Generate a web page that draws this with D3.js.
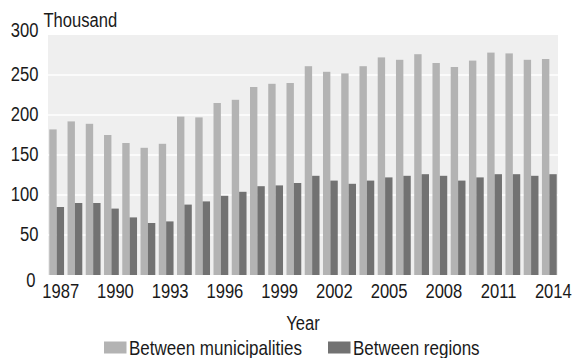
<!DOCTYPE html>
<html>
<head>
<meta charset="utf-8">
<script src="https://cdn.jsdelivr.net/npm/d3@7"></script>
<style>
  html, body { margin: 0; padding: 0; background: #ffffff; }
  svg { display: block; }
  text { font-family: "Liberation Sans", Arial, sans-serif; fill: #1a1a1a; }
</style>
</head>
<body>
<svg id="chart" width="578" height="358"></svg>
<script>
const years = d3.range(1987, 2015);
const betweenMunicipalities = [182, 192, 189, 175, 165, 159, 164, 198, 197, 215, 219, 235, 239, 240, 261, 254, 252, 261, 272, 269, 276, 265, 260, 268, 278, 277, 269, 270];
const betweenRegions = [85, 90, 90, 83, 72, 65, 67, 88, 92, 99, 104, 111, 112, 115, 124, 118, 114, 118, 122, 124, 126, 124, 118, 122, 126, 126, 124, 126];
const seriesNames = ["Between municipalities", "Between regions"];
const seriesColors = ["#b3b3b3", "#727272"];
const yTicks = [0, 50, 100, 150, 200, 250, 300];
const xTickYears = [1987, 1990, 1993, 1996, 1999, 2002, 2005, 2008, 2011, 2014];
const yUnitLabel = "Thousand";
const xTitle = "Year";

const svg = d3.select("#chart");
const mLeft = 48, mRight = 558, mTop = 35, mBottom = 275;
const FS = 21, SX = 0.79; // font size and horizontal condensing

const x = d3.scaleBand().domain(years).range([mLeft, mRight]).paddingInner(0.19).paddingOuter(0.07);
const xs = d3.scaleBand().domain(seriesNames).range([0, x.bandwidth()]).padding(0);
const y = d3.scaleLinear().domain([0, 300]).range([mBottom, mTop]);

// panel
svg.append("rect").attr("x", mLeft).attr("y", mTop).attr("width", mRight - mLeft).attr("height", mBottom - mTop).attr("fill", "#efefef");

// gridlines
svg.append("g").selectAll("line").data(yTicks.filter(d => d > 0 && d < 300)).join("line")
  .attr("x1", mLeft).attr("x2", mRight).attr("y1", d => y(d)).attr("y2", d => y(d))
  .attr("stroke", "#ffffff").attr("stroke-width", 1.4);

// bars
const data = years.map((yr, i) => ({ year: yr, values: [betweenMunicipalities[i], betweenRegions[i]] }));
const groups = svg.append("g").selectAll("g").data(data).join("g")
  .attr("transform", d => `translate(${x(d.year)},0)`);
groups.selectAll("rect").data(d => d.values.map((v, k) => ({ key: seriesNames[k], v, k }))).join("rect")
  .attr("x", d => xs(d.key)).attr("width", xs.bandwidth())
  .attr("y", d => y(d.v)).attr("height", d => y(0) - y(d.v))
  .attr("fill", d => seriesColors[d.k]);

// y axis
const yAxis = d3.axisLeft(y).tickValues(yTicks).tickSize(0).tickPadding(0);
const yg = svg.append("g").attr("transform", `translate(${38.5},0)`).call(yAxis);
yg.select(".domain").remove();
yg.selectAll("text").attr("font-size", FS).attr("dy", "0.24em")
  .attr("font-family", null).attr("fill", "#1a1a1a").attr("transform", `scale(${SX},1)`);
yg.selectAll(".tick").filter(d => d === 300).select("text").attr("dy", "0.08em");
yg.selectAll(".tick").filter(d => d === 0).select("text").attr("dy", "0.57em").attr("x", -4);

// x axis labels
const xAxis = d3.axisBottom(x).tickValues(xTickYears).tickSize(0).tickPadding(0);
const xg = svg.append("g").attr("transform", `translate(${4},${mBottom + 8.5})`).call(xAxis);
xg.select(".domain").remove();
xg.selectAll("text").attr("font-size", FS).attr("dy", "0.7em").attr("font-family", null)
  .attr("fill", "#1a1a1a").attr("transform", `scale(${SX},1)`);

// unit label
svg.append("text").attr("transform", `translate(43.5,26.5) scale(${SX},1)`).attr("font-size", FS).text(yUnitLabel);

// x title
svg.append("text").attr("transform", `translate(${(mLeft + mRight) / 2},329.5) scale(${SX},1)`)
  .attr("text-anchor", "middle").attr("font-size", FS).text(xTitle);

// legend
const legendX = [104, 328];
const lg = svg.append("g").selectAll("g").data(seriesNames).join("g")
  .attr("transform", (d, i) => `translate(${legendX[i]},0)`);
lg.append("rect").attr("x", 0).attr("y", 341.5).attr("width", 22.5).attr("height", 12).attr("fill", (d, i) => seriesColors[i]);
lg.append("text").attr("transform", `translate(25,354.5) scale(${SX + 0.02},1)`).attr("font-size", FS).text(d => d);
</script>
</body>
</html>
